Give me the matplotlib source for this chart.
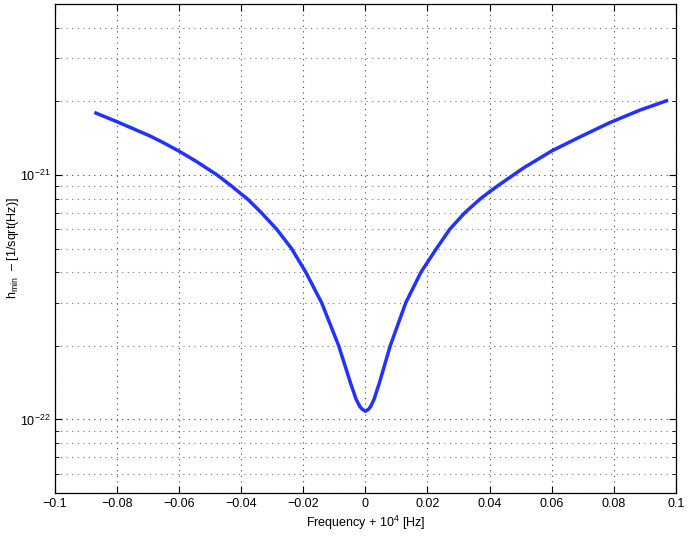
import matplotlib
matplotlib.use("Agg")
import matplotlib.pyplot as plt
from matplotlib.ticker import LogLocator, NullFormatter
import numpy as np

plt.rcParams['font.family'] = ['Liberation Sans', 'DejaVu Sans']
plt.rcParams['mathtext.fontset'] = 'custom'
plt.rcParams['mathtext.rm'] = 'Liberation Sans'
plt.rcParams['mathtext.it'] = 'Liberation Sans'

# frequency offset from 1e4 Hz
freq = [-0.0868, -0.0800, -0.0694, -0.0651, -0.0600, -0.0544, -0.0478, -0.0431,
        -0.0400, -0.0381, -0.0335, -0.0286, -0.0238, -0.0192, -0.0141, -0.0086,
        -0.0048, -0.0030, -0.0018, -0.0010, 0.0, 0.0010, 0.0017, 0.0028,
        0.0045, 0.0080, 0.0130, 0.0179, 0.0229, 0.0272, 0.0320, 0.0371,
        0.0400, 0.0425, 0.0477, 0.0508, 0.0600, 0.0691, 0.0787, 0.0884, 0.0970]
# h_min in units of 1e-21
h_min = [1.79, 1.65, 1.443, 1.355, 1.25, 1.134, 1.00, 0.90,
         0.835, 0.80, 0.70, 0.60, 0.50, 0.40, 0.30, 0.20,
         0.141, 0.121, 0.113, 0.110, 0.108, 0.110, 0.113, 0.121,
         0.141, 0.20, 0.30, 0.40, 0.50, 0.60, 0.70, 0.80,
         0.853, 0.90, 1.00, 1.065, 1.253, 1.43, 1.635, 1.84, 2.01]
h_min = np.array(h_min) * 1e-21

fig = plt.figure(figsize=(6.91, 5.36), dpi=100)
ax = fig.add_axes([0.0796, 0.0802, 0.8984, 0.9123])

ax.plot(freq, h_min, color='#2233ff', lw=2.5, solid_joinstyle='round')
ax.set_yscale('log')
ax.set_xlim(-0.1, 0.1)
ax.set_ylim(5e-23, 5e-21)
ax.set_xticks(np.arange(-0.1, 0.1001, 0.02))
ax.set_xticklabels(['\u22120.1', '\u22120.08', '\u22120.06', '\u22120.04', '\u22120.02',
                    '0', '0.02', '0.04', '0.06', '0.08', '0.1'])
ax.set_yticks([1e-22, 1e-21])
ax.yaxis.set_minor_locator(LogLocator(base=10, subs=np.arange(2, 10)))
ax.yaxis.set_minor_formatter(NullFormatter())

ax.grid(True, which='major', ls=(0, (1, 4)), color='#444444', lw=0.8)
ax.grid(True, which='minor', axis='y', ls=(0, (1, 4)), color='#777777', lw=0.8)
ax.tick_params(which='both', direction='in', top=True, right=True, labelsize=9)
ax.tick_params(which='major', length=5)
ax.tick_params(which='minor', length=3)
for s in ax.spines.values():
    s.set_linewidth(0.9)

ax.set_xlabel('Frequency + 10$^4$ [Hz]', fontsize=9, labelpad=3)
ax.set_ylabel('h$_{\\mathrm{min}}$  \u2013 [1/sqrt(Hz)]', fontsize=9)
ax.yaxis.set_label_coords(-0.055, 0.5)

fig.savefig('out.png', dpi=100)
